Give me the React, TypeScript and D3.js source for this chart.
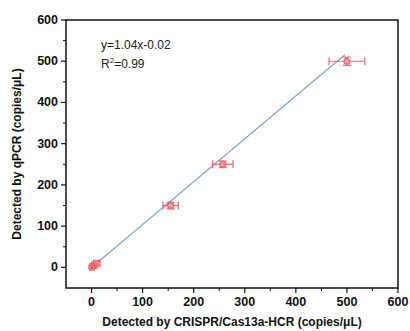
import React from 'react'
import * as d3 from 'd3'

const xVals = [1, 5, 10, 155, 257, 500]
const yVals = [1, 5, 10, 150, 250, 500]
const xErr = [4, 5, 6, 15, 20, 35]
const yErr = [3, 4, 5, 8, 8, 10]
const tickVals = [0, 100, 200, 300, 400, 500, 600]
const minorVals = [50, 150, 250, 350, 450, 550]
const slope = 1.04
const intercept = -0.02
const fitRange = [4, 496]

const W = 410, H = 331
const m = { left: 66, right: 12, top: 20, bottom: 43 }

const App = () => {
  const x = d3.scaleLinear().domain([-50, 600]).range([m.left, W - m.right])
  const y = d3.scaleLinear().domain([-50, 600]).range([H - m.bottom, m.top])
  const red = '#ea4f55'
  const line = d3.line<number>().x(d => x(d)).y(d => y(slope * d + intercept))

  return (
    <svg width={W} height={H} style={{ position: 'absolute', left: 0, top: 0, background: '#fff' }}
      fontFamily="'Liberation Sans', Arial, sans-serif">
      <path d={line(fitRange) || ''} stroke="#7fa3d8" strokeWidth={1.2} fill="none" />
      {xVals.map((xv, i) => {
        const cx = x(xv), cy = y(yVals[i])
        const x0 = x(xv - xErr[i]), x1 = x(xv + xErr[i])
        const y0 = y(yVals[i] - yErr[i]), y1 = y(yVals[i] + yErr[i])
        return (
          <g key={i} stroke={red} strokeWidth={1.2} fill="none" opacity={0.85}>
            <line x1={x0} x2={x1} y1={cy} y2={cy} />
            <line x1={x0} x2={x0} y1={cy - 4} y2={cy + 4} />
            <line x1={x1} x2={x1} y1={cy - 4} y2={cy + 4} />
            <line x1={cx} x2={cx} y1={y0} y2={y1} />
            <line x1={cx - 4} x2={cx + 4} y1={y0} y2={y0} />
            <line x1={cx - 4} x2={cx + 4} y1={y1} y2={y1} />
            <circle cx={cx} cy={cy} r={3} fill="#f28a8d" />
          </g>
        )
      })}
      <rect x={m.left} y={m.top} width={W - m.left - m.right} height={H - m.top - m.bottom}
        fill="none" stroke="#111" strokeWidth={1.5} />
      {tickVals.map(t => (
        <g key={'x' + t}>
          <line x1={x(t)} x2={x(t)} y1={H - m.bottom} y2={H - m.bottom + 5} stroke="#111" strokeWidth={1.2} />
          <text x={x(t)} y={H - m.bottom + 18} textAnchor="middle" fontSize={12.5} fontWeight="bold" fill="#111">{t}</text>
          <line x1={m.left} x2={m.left - 5} y1={y(t)} y2={y(t)} stroke="#111" strokeWidth={1.2} />
          <text x={m.left - 8} y={y(t) + 4} textAnchor="end" fontSize={12.5} fontWeight="bold" fill="#111">{t}</text>
        </g>
      ))}
      {minorVals.map(t => (
        <g key={'m' + t}>
          <line x1={x(t)} x2={x(t)} y1={H - m.bottom} y2={H - m.bottom + 3} stroke="#111" strokeWidth={1} />
          <line x1={m.left} x2={m.left - 3} y1={y(t)} y2={y(t)} stroke="#111" strokeWidth={1} />
        </g>
      ))}
      <text x={(m.left + W - m.right) / 2} y={H - 5} textAnchor="middle" fontSize={12} fontWeight="bold" fill="#111">
        Detected by CRISPR/Cas13a-HCR (copies/μL)
      </text>
      <text transform={`translate(21,${(m.top + H - m.bottom) / 2}) rotate(-90)`} textAnchor="middle"
        fontSize={12} fontWeight="bold" fill="#111">
        Detected by qPCR (copies/μL)
      </text>
      <text x={101} y={49} fontSize={12} fill="#222">y=1.04x-0.02</text>
      <text x={101} y={68} fontSize={12} fill="#222">R<tspan dy={-5} fontSize={8}>2</tspan><tspan dy={5}>=0.99</tspan></text>
    </svg>
  )
}

export default App
